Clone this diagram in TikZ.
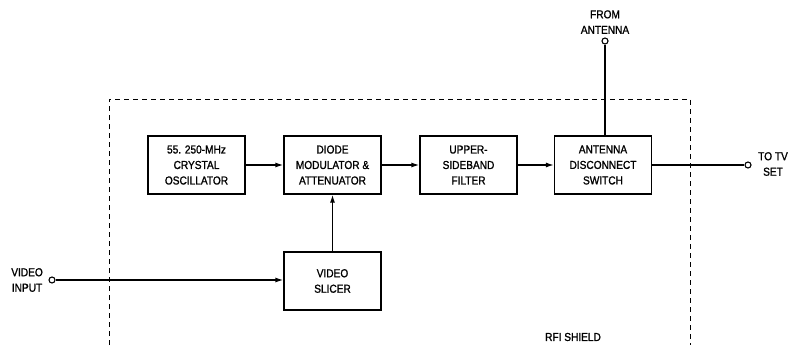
\documentclass[tikz,border=0pt]{standalone}
\usepackage{fontspec}
\setmainfont{Liberation Sans}[FakeStretch=0.88,FakeBold=1.2]
\usetikzlibrary{arrows.meta}
\begin{document}
\begin{tikzpicture}[x=1pt,y=-1pt,
  blk/.style={draw,line width=1.3pt,minimum width=97pt,minimum height=58pt,align=center,inner sep=0pt,font=\fontsize{11.5}{15.5}\selectfont},
  lbl/.style={align=center,inner sep=0pt,font=\fontsize{11.5}{15.5}\selectfont},
  conn/.style={line width=1.3pt},
  arr/.style={conn,-{Latex[length=8pt,width=5pt]}},
  term/.style={circle,draw,line width=1.1pt,minimum size=6pt,inner sep=0pt,fill=white},
  shield/.style={line width=1pt,dash pattern=on 5pt off 4pt}]
\useasboundingbox (0,0) rectangle (794,345);
\draw[shield] (109,345) -- (109,99) -- (690,99) -- (690,345);
\node[blk] (osc) at (196.5,165) {55. 250-MHz\\CRYSTAL\\OSCILLATOR};
\node[blk] (mod) at (332.5,165) {DIODE\\MODULATOR \&\\ATTENUATOR};
\node[blk] (usb) at (468.5,165) {UPPER-\\SIDEBAND\\FILTER};
\node[blk] (sw) at (603,165) {ANTENNA\\DISCONNECT\\SWITCH};
\node[blk] (sl) at (332.5,281) {VIDEO\\SLICER};
\node[term] (vin) at (52,280) {};
\node[term] (ant) at (605,41) {};
\node[term] (tv) at (748,165) {};
\node[lbl,anchor=east] (vinl) at (43,280) {VIDEO\\INPUT};
\node[lbl,anchor=south] (antl) at (605,34) {FROM\\ANTENNA};
\node[lbl,anchor=west] (tvl) at (758,164) {TO TV\\SET};
\node[lbl] (rfi) at (573,337) {RFI SHIELD};
\draw[arr] (osc) -- (mod);
\draw[arr] (mod) -- (usb);
\draw[arr] (usb) -- (sw);
\draw[arr] (sl) -- (mod);
\draw[arr] (vin) -- (vin -| sl.west);
\draw[conn] (ant) -- (ant |- sw.north);
\draw[conn] (sw) -- (tv);
\end{tikzpicture}
\end{document}
